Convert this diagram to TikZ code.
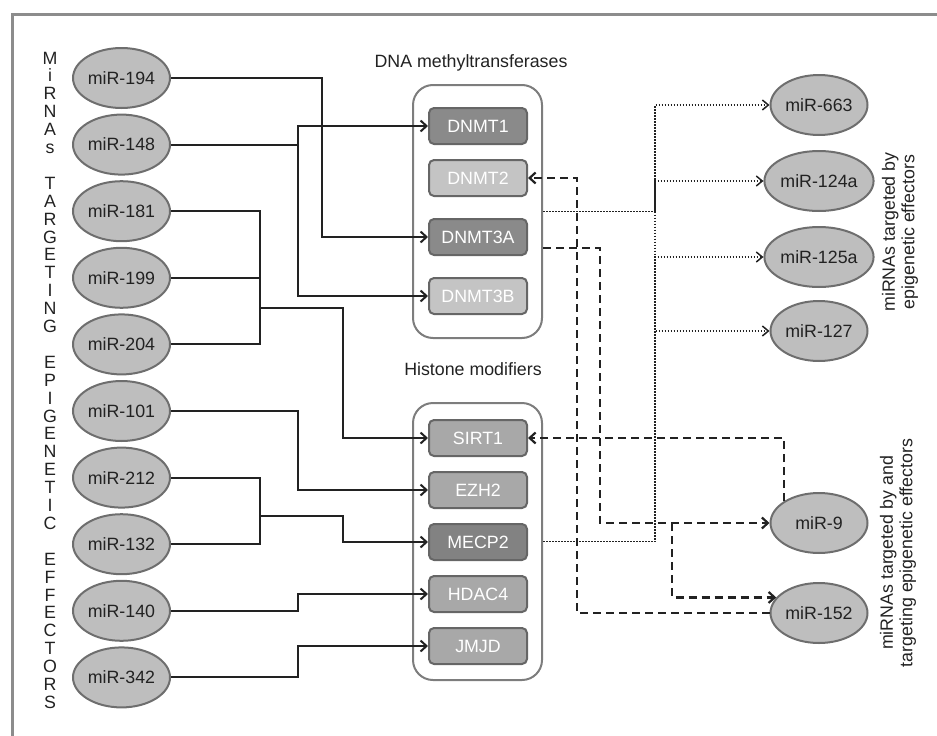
\documentclass[tikz,border=0pt]{standalone}
\usepackage{fontspec}
\setmainfont{Liberation Sans}
\usetikzlibrary{arrows.meta,shapes.geometric,calc}

\definecolor{ellfill}{HTML}{BEBEBE}
\definecolor{ellline}{HTML}{6E6E6E}
\definecolor{darkbox}{HTML}{8A8A8A}
\definecolor{lightbox}{HTML}{C4C4C4}
\definecolor{midbox}{HTML}{A8A8A8}
\definecolor{mecpbox}{HTML}{828282}
\definecolor{boxline}{HTML}{666666}
\definecolor{framegray}{HTML}{8C8C8C}
\definecolor{ink}{HTML}{222222}

\tikzset{
  mirna/.style={ellipse, draw=ellline, fill=ellfill, line width=2pt,
    minimum width=97pt, minimum height=60pt, inner sep=0pt, text=ink,
    font=\fontsize{17.8}{20}\selectfont},
  enzyme/.style={draw=boxline, line width=2pt, rounded corners=5pt,
    minimum width=98pt, minimum height=36pt, inner sep=0pt, text=white,
    font=\fontsize{17.8}{20}\selectfont},
  group/.style={draw=boxline!85, line width=2pt, rounded corners=20pt,
    minimum width=129pt, inner sep=0pt},
  title/.style={text=ink, font=\fontsize{17.8}{20}\selectfont},
  sidetext/.style={text=ink, inner sep=0pt, font=\fontsize{17.8}{19.5}\selectfont},
  wire/.style={line width=2pt, ink},
  link/.style={wire, -{Straight Barb[length=6pt,width=11pt]}},
  dotlink/.style={line width=1.5pt, ink, dash pattern=on 1.5pt off 1.5pt,
    -{Straight Barb[length=6pt,width=10pt]}},
  dashlink/.style={line width=2.2pt, ink, dash pattern=on 8pt off 5pt,
    -{Straight Barb[length=6pt,width=11pt]}}
}

\begin{document}
\begin{tikzpicture}[x=1pt,y=-1pt]
  \useasboundingbox (0,0) rectangle (937,736);
  % outer frame
  \draw[framegray, line width=3pt] (12,736) -- (12,14) -- (937,14);

  % vertical title on the left
  \foreach \w/\s in {{M,i,R,N,A,s}/0, {T,A,R,G,E,T,I,N,G}/7,
      {E,P,I,G,E,N,E,T,I,C}/17, {E,F,F,E,C,T,O,R,S}/28}
    \foreach \c [count=\k from \s] in \w
      \node[sidetext, anchor=base] (v\k) at (50, 64+17.9*\k) {\c};

  % miRNAs targeting epigenetic effectors
  \node[mirna] (m194) at (121.5,78) {miR-194};
  \node[mirna] (m148) at (121.5,144.6) {miR-148};
  \node[mirna] (m181) at (121.5,211.2) {miR-181};
  \node[mirna] (m199) at (121.5,277.8) {miR-199};
  \node[mirna] (m204) at (121.5,344.4) {miR-204};
  \node[mirna] (m101) at (121.5,411) {miR-101};
  \node[mirna] (m212) at (121.5,477.6) {miR-212};
  \node[mirna] (m132) at (121.5,544.2) {miR-132};
  \node[mirna] (m140) at (121.5,610.8) {miR-140};
  \node[mirna] (m342) at (121.5,677.4) {miR-342};

  % DNA methyltransferases
  \node[title] (dnmttitle) at (471,63) {DNA methyltransferases};
  \node[group, minimum height=253pt] (dnmtbox) at (477.5,211.5) {};
  \node[enzyme, fill=darkbox] (dnmt1) at (478,126) {DNMT1};
  \node[enzyme, fill=lightbox] (dnmt2) at (478,178) {DNMT2};
  \node[enzyme, fill=darkbox] (dnmt3a) at (478,237) {DNMT3A};
  \node[enzyme, fill=lightbox] (dnmt3b) at (478,296) {DNMT3B};

  % Histone modifiers
  \node[title] (hmtitle) at (473,369) {Histone modifiers};
  \node[group, minimum height=277pt] (hmbox) at (477.5,541.5) {};
  \node[enzyme, fill=midbox] (sirt1) at (478,438) {SIRT1};
  \node[enzyme, fill=midbox] (ezh2) at (478,490) {EZH2};
  \node[enzyme, fill=mecpbox] (mecp2) at (478,542) {MECP2};
  \node[enzyme, fill=midbox] (hdac4) at (478,594) {HDAC4};
  \node[enzyme, fill=midbox] (jmjd) at (478,646) {JMJD};

  % miRNAs on the right
  \node[mirna] (m663) at (819,105) {miR-663};
  \node[mirna] (m124) at (819,181) {miR-124a};
  \node[mirna] (m125) at (819,257) {miR-125a};
  \node[mirna] (m127) at (819,331) {miR-127};
  \node[mirna] (m9) at (819,523) {miR-9};
  \node[mirna] (m152) at (819,613) {miR-152};

  % labels on the right
  \node[sidetext, rotate=90, align=center] (rtop) at (900,232)
    {miRNAs targeted by\\epigenetic effectors};
  \node[sidetext, rotate=90, align=center] (rbot) at (898,553)
    {miRNAs targeted by and\\targeting epigenetic effectors};

  % columns of the elbow connectors
  \coordinate (xa) at (260,0);
  \coordinate (xb) at (298,0);
  \coordinate (xc) at (322,0);
  \coordinate (xd) at (343,0);
  \coordinate (xe) at (655,0);
  \coordinate (xf) at (577,0);
  \coordinate (xg) at (600,0);
  \coordinate (xh) at (672,0);

  % solid: miRNAs -> effectors
  \draw[link] (m194.east) -- (m194.east -| xc) |- (dnmt3a.west);
  \draw[link] (m148.east) -- (m148.east -| xb) |- (dnmt1.west);
  \draw[link] (m148.east -| xb) |- (dnmt3b.west);
  \draw[wire] (m181.east) -- (m181.east -| xa) -- (m204.east -| xa) -- (m204.east);
  \draw[wire] (m199.east) -- (m199.east -| xa);
  \coordinate (j1) at (260,308);
  \draw[link] (j1) -- (j1 -| xd) |- (sirt1.west);
  \draw[link] (m101.east) -- (m101.east -| xb) |- (ezh2.west);
  \draw[wire] (m212.east) -- (m212.east -| xa) -- (m132.east -| xa) -- (m132.east);
  \coordinate (j2) at (260,516);
  \draw[link] (j2) -- (j2 -| xd) |- (mecp2.west);
  \draw[link] (m140.east) -- (m140.east -| xb) |- (hdac4.west);
  \draw[link] (m342.east) -- (m342.east -| xb) |- (jmjd.west);

  % dotted: effectors -> miRNAs
  \draw[dotlink] (dnmtbox.east) -- (dnmtbox.east -| xe) |- (m663.west);
  \draw[dotlink] (dnmtbox.east -| xe) |- (m124.west);
  \draw[dotlink] (dnmtbox.east -| xe) |- (m127.west);
  \draw[dotlink] (hmbox.east) -- (hmbox.east -| xe) |- (m125.west);

  % dashed: both ways
  \draw[dashlink] (m152.west) -- (m152.west -| xf) |- (dnmt2.east);
  \coordinate (d3a) at ($(dnmtbox.east |- dnmt3a.east)+(0,11)$);
  \draw[dashlink] (d3a) -- (d3a -| xg) |- (m9.west);
  \draw[dashlink] (m9.west -| xh) |- (m152.160);
  \draw[dashlink] (m9.north west) |- (sirt1.east);
\end{tikzpicture}
\end{document}
